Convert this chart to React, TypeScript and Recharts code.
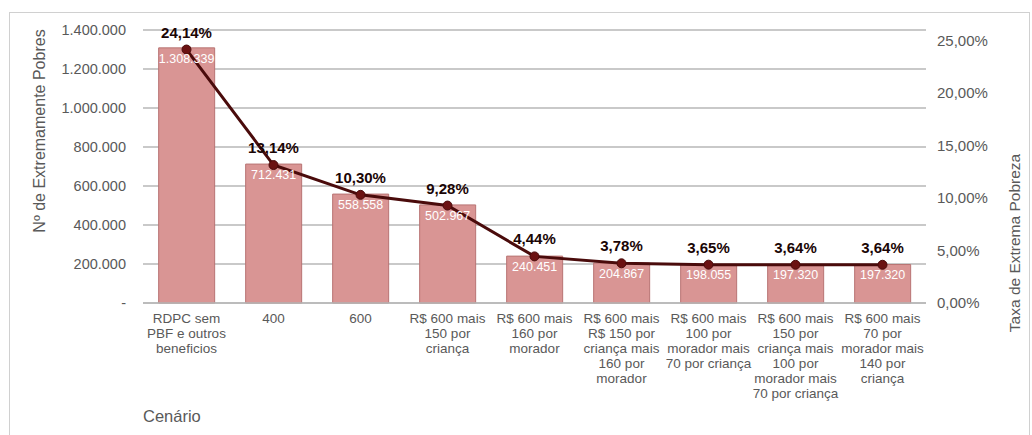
import {
  ComposedChart,
  Bar,
  Line,
  XAxis,
  YAxis,
  CartesianGrid,
  LabelList,
} from "recharts";

// Cenários (cada linha do rótulo do eixo X)
const scenarioLines: string[][] = [
  ["RDPC sem", "PBF e outros", "beneficios"],
  ["400"],
  ["600"],
  ["R$ 600 mais", "150 por", "criança"],
  ["R$ 600 mais", "160 por", "morador"],
  ["R$ 600 mais", "R$ 150 por", "criança mais", "160 por", "morador"],
  ["R$ 600 mais", "100 por", "morador mais", "70 por criança"],
  ["R$ 600 mais", "150 por", "criança mais", "100 por", "morador mais", "70 por criança"],
  ["R$ 600 mais", "70 por", "morador mais", "140 por", "criança"],
];

// Nº de extremamente pobres por cenário
const extremePoor = [1308339, 712431, 558558, 502967, 240451, 204867, 198055, 197320, 197320];

// Taxa de extrema pobreza (%)
const povertyRate = [24.14, 13.14, 10.3, 9.28, 4.44, 3.78, 3.65, 3.64, 3.64];

const leftTicks = [0, 200000, 400000, 600000, 800000, 1000000, 1200000, 1400000];
const rightTicks = [0, 5, 10, 15, 20, 25];

const data = scenarioLines.map((lines, i) => ({
  key: String(i),
  lines,
  pobres: extremePoor[i],
  taxa: povertyRate[i],
}));

const FONT = "'Liberation Sans', Arial, sans-serif";
const GREY = "#595959";

const fmtThousands = (v: number) =>
  v === 0 ? "-" : String(Math.round(v)).replace(/\B(?=(\d{3})+(?!\d))/g, ".");

const fmtPct = (v: number) => v.toFixed(2).replace(".", ",") + "%";

function ScenarioTick(props: any) {
  const { x, y, payload } = props;
  const lines = scenarioLines[Number(payload.value)] || [];
  return (
    <text x={x} y={y} textAnchor="middle" fill={GREY} fontSize={13.5} fontFamily={FONT}>
      {lines.map((l, i) => (
        <tspan key={i} x={x} dy={i === 0 ? 12 : 15}>
          {l}
        </tspan>
      ))}
    </text>
  );
}

export default function App() {
  return (
    <div
      style={{
        position: "absolute",
        left: 0,
        top: 0,
        width: 1032,
        height: 435,
        overflow: "hidden",
        background: "#fff",
        fontFamily: FONT,
      }}
    >
      <div
        style={{
          position: "absolute",
          left: 9,
          top: 12,
          width: 1021,
          height: 500,
          border: "1px solid #d0d0d0",
          boxSizing: "border-box",
        }}
      />
      <div style={{ position: "absolute", left: 0, top: 0 }}>
        <ComposedChart
          width={1032}
          height={435}
          data={data}
          margin={{ top: 30, right: 0, bottom: 32, left: 0 }}
          barCategoryGap="18%"
        >
          <CartesianGrid vertical={false} stroke="#b7b7b7" strokeWidth={1.3} yAxisId="left" />
          <XAxis
            dataKey="key"
            height={100}
            tick={<ScenarioTick />}
            tickLine={false}
            axisLine={{ stroke: "#b7b7b7", strokeWidth: 1.3 }}
            tickSize={0}
            tickMargin={8}
            interval={0}
          />
          <YAxis
            yAxisId="left"
            orientation="left"
            width={143}
            domain={[0, 1400000]}
            ticks={leftTicks}
            tickFormatter={fmtThousands}
            tickLine={false}
            axisLine={false}
            tickSize={0}
            tickMargin={17}
            tick={{ fill: GREY, fontSize: 14.5, fontFamily: FONT }}
          />
          <YAxis
            yAxisId="right"
            orientation="right"
            width={106}
            domain={[0, 26]}
            ticks={rightTicks}
            tickFormatter={fmtPct}
            tickLine={false}
            axisLine={false}
            tickSize={0}
            tickMargin={11}
            tick={{ fill: GREY, fontSize: 15, fontFamily: FONT, textAnchor: "start" }}
          />
          <Bar
            yAxisId="left"
            dataKey="pobres"
            fill="#d99594"
            stroke="#b87473"
            strokeWidth={1}
            isAnimationActive={false}
          >
            <LabelList
              dataKey="pobres"
              position="insideTop"
              offset={6}
              formatter={(v: any) => fmtThousands(Number(v))}
              fill="#ffffff"
              fontSize={12.5}
              fontFamily={FONT}
            />
          </Bar>
          <Line
            yAxisId="right"
            dataKey="taxa"
            stroke="#4a0b0b"
            strokeWidth={3}
            dot={{ r: 4.5, fill: "#6b1212", stroke: "#4a0b0b", strokeWidth: 1 }}
            isAnimationActive={false}
          >
            <LabelList
              dataKey="taxa"
              position="top"
              offset={12}
              formatter={(v: any) => fmtPct(Number(v))}
              fill="#1a0505"
              fontSize={15}
              fontWeight="bold"
              fontFamily={FONT}
            />
          </Line>
        </ComposedChart>
      </div>
      <div
        style={{
          position: "absolute",
          left: 40,
          top: 131,
          transform: "translate(-50%, -50%) rotate(-90deg)",
          whiteSpace: "nowrap",
          color: GREY,
          fontSize: 16,
        }}
      >
        Nº de Extremamente Pobres
      </div>
      <div
        style={{
          position: "absolute",
          left: 1015,
          top: 243,
          transform: "translate(-50%, -50%) rotate(-90deg)",
          whiteSpace: "nowrap",
          color: GREY,
          fontSize: 15.5,
        }}
      >
        Taxa de Extrema Pobreza
      </div>
      <div
        style={{
          position: "absolute",
          left: 143,
          top: 407,
          color: GREY,
          fontSize: 16.5,
          whiteSpace: "nowrap",
        }}
      >
        Cenário
      </div>
    </div>
  );
}
